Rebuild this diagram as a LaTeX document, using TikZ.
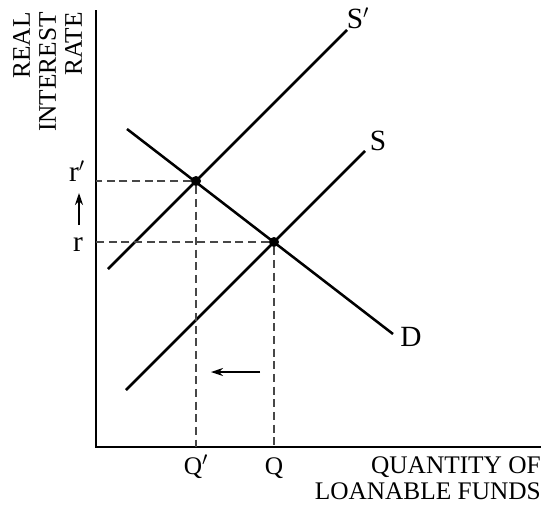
\documentclass[tikz,border=0pt]{standalone}
\usepackage{fontspec}
\setmainfont{Liberation Serif}
\usepackage{tikz}
\usetikzlibrary{arrows.meta,calc,positioning}

\begin{document}
\begin{tikzpicture}[x=0.75pt,y=-0.75pt,
  curve/.style={line width=1.9pt},
  guide/.style={dashed,dash pattern=on 6pt off 3.5pt,line width=0.9pt,black!72},
  lbl/.style={inner sep=0pt,font=\fontsize{22}{24}\selectfont},
  axlbl/.style={inner sep=0pt,font=\fontsize{19}{19.5}\selectfont},
  eq/.style={circle,fill=black,inner sep=0pt,minimum size=7.5pt}]
  \useasboundingbox (0,0) rectangle (545,504);
  % axes
  \coordinate (O) at (96,447);
  \coordinate (Ytop) at (96,10);
  \coordinate (Xend) at (541,447);
  \draw[line width=2.2pt] (Ytop) -- (O) -- (Xend);
  % equilibria
  \node[eq] (E1) at (196,181) {};
  \node[eq] (E0) at (274,242) {};
  % curve end points
  \coordinate (S1a) at (108,269);
  \coordinate (S1b) at (347,30);
  \coordinate (S0a) at (126,390);
  \coordinate (S0b) at (365,151);
  \coordinate (Da) at (127,129);
  \coordinate (Db) at (393,334);
  \draw[curve] (S1a) -- (S1b);
  \draw[curve] (S0a) -- (S0b);
  \draw[curve] (Da) -- (Db);
  \node[lbl] (S1) at (358,18) {S$'$};
  \node[lbl] (S0) at (378,141) {S};
  \node[lbl] (D) at (411,337) {D};
  % guides to the axes
  \draw[guide] (E1) -- (E1 -| O);
  \draw[guide] (E0) -- (E0 -| O);
  \draw[guide] (E1) -- (E1 |- O);
  \draw[guide] (E0) -- (E0 |- O);
  \node[lbl] (r1) at (77,171) {r$'$};
  \node[lbl] (r0) at (78,245) {r};
  \node[axlbl,anchor=base] (Q1) at (196,474) {Q$'$};
  \node[axlbl,anchor=base] (Q0) at (274,474) {Q};
  % shifts
  \coordinate (up0) at (79,225);
  \coordinate (up1) at (79,193);
  \draw[-{Stealth[length=9pt,width=6pt]},line width=1pt] (up0) -- (up1);
  \coordinate (lf0) at (260,372);
  \coordinate (lf1) at (211,372);
  \draw[-{Stealth[length=9pt,width=6pt]},line width=1pt] (lf0) -- (lf1);
  % axis titles
  \node[axlbl,rotate=90,anchor=north east,align=right] (Yt) at (13,12) {REAL\\INTEREST\\RATE};
  \node[axlbl,anchor=north east,align=right] (Xt) at (541,456) {QUANTITY OF\\LOANABLE FUNDS};
\end{tikzpicture}
\end{document}
